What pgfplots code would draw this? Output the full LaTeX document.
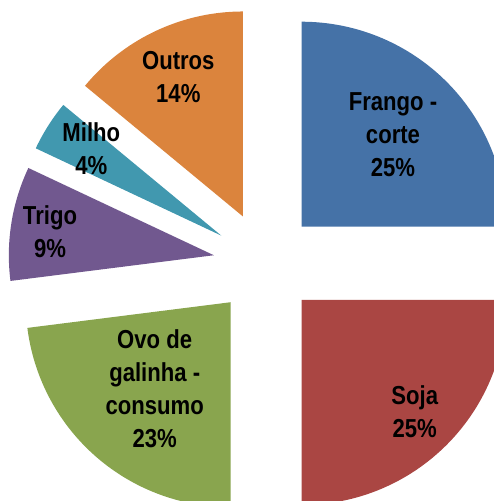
\documentclass[border=0pt]{standalone}
\usepackage{fontspec}
\setmainfont[FakeStretch=0.85]{Liberation Sans}
\usepackage{pgfplots}
\pgfplotsset{compat=1.18}
\definecolor{cFrango}{HTML}{4572A7}
\definecolor{cSoja}{HTML}{AA4643}
\definecolor{cOvo}{HTML}{89A54E}
\definecolor{cTrigo}{HTML}{71588F}
\definecolor{cMilho}{HTML}{4198AF}
\definecolor{cOutros}{HTML}{DB843D}
\tikzset{lbl/.style={font=\bfseries\fontsize{26}{33}\selectfont, align=center, text=black, inner sep=0pt}}
\begin{document}
\begin{tikzpicture}
% Shares (%): Frango - corte 25, Soja 25, Ovo de galinha - consumo 23, Trigo 9, Milho 4, Outros 14
% Angles: clockwise from 90 deg, 3.6 deg per percent; each slice exploded along its bisector.
\begin{axis}[
  scale only axis, width=494pt, height=501pt,
  xmin=0, xmax=494, ymin=0, ymax=501,
  hide axis, clip=true,
]
\coordinate (ll) at (rel axis cs:0,0);
\coordinate (ur) at (rel axis cs:1,1);
% Frango - corte 25%: 90 -> 0
\addplot[fill=cFrango, draw=none, domain=0:90, samples=90, variable=\t]
  ({301.63+205*cos(\t)}, {274.28+205*sin(\t)}) -- (axis cs:301.63,274.28) -- cycle;
% Soja 25%: 0 -> -90
\addplot[fill=cSoja, draw=none, domain=-90:0, samples=90, variable=\t]
  ({301.63+205*cos(\t)}, {201.02+205*sin(\t)}) -- (axis cs:301.63,201.02) -- cycle;
% Ovo de galinha - consumo 23%: -90 -> -172.8
\addplot[fill=cOvo, draw=none, domain=-172.8:-90, samples=85, variable=\t]
  ({230.74+205*cos(\t)}, {198.79+205*sin(\t)}) -- (axis cs:230.74,198.79) -- cycle;
% Trigo 9%: -172.8 -> -205.2
\addplot[fill=cTrigo, draw=none, domain=-205.2:-172.8, samples=40, variable=\t]
  ({213.84+205*cos(\t)}, {245.75+205*sin(\t)}) -- (axis cs:213.84,245.75) -- cycle;
% Milho 4%: -205.2 -> -219.6
\addplot[fill=cMilho, draw=none, domain=-219.6:-205.2, samples=20, variable=\t]
  ({221.26+205*cos(\t)}, {265.41+205*sin(\t)}) -- (axis cs:221.26,265.41) -- cycle;
% Outros 14%: -219.6 -> -270
\addplot[fill=cOutros, draw=none, domain=-270:-219.6, samples=55, variable=\t]
  ({242.94+205*cos(\t)}, {284.52+205*sin(\t)}) -- (axis cs:242.94,284.52) -- cycle;

\node[lbl] at (axis cs:393,366.5) {Frango -\\corte\\25\%};
\node[lbl] at (axis cs:414.7,89) {Soja\\25\%};
\node[lbl] at (axis cs:154.7,112.3) {Ovo de\\galinha -\\consumo\\23\%};
\node[lbl] at (axis cs:50,269.3) {Trigo\\9\%};
\node[lbl] at (axis cs:91.3,352) {Milho\\4\%};
\node[lbl] at (axis cs:178.3,424.3) {Outros\\14\%};
\end{axis}
\pgfresetboundingbox
\path[use as bounding box] (ll) rectangle (ur);
\end{tikzpicture}
\end{document}
